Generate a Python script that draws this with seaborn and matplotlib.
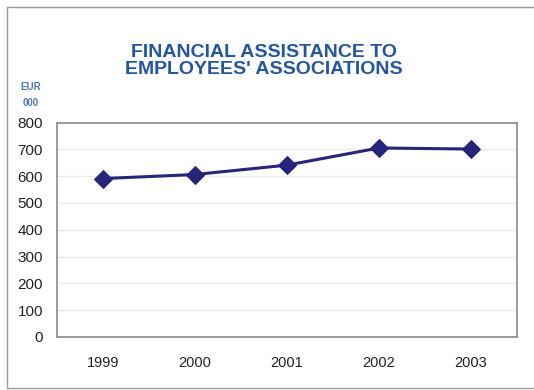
import matplotlib
matplotlib.use("Agg")
import matplotlib.pyplot as plt
import seaborn as sns
import pandas as pd
from matplotlib.patches import Rectangle

years = ["1999", "2000", "2001", "2002", "2003"]
assistance = [591, 606, 641, 705, 701]
yticks = [0, 100, 200, 300, 400, 500, 600, 700, 800]

df = pd.DataFrame({"year": years, "value": assistance})

sns.set_theme(style="white")
plt.rcParams["font.family"] = ["Liberation Sans", "DejaVu Sans"]

fig = plt.figure(figsize=(5.34, 3.90), dpi=100)
W, H = 534, 390
ax = fig.add_axes([57 / W, 1 - 337 / H, (517 - 57) / W, (337 - 122.5) / H])

# outer frame around the chart
fig.patches.append(Rectangle((7 / W, 1 - 388 / H), 1.2, (388 - 7) / H,
                             transform=fig.transFigure, fill=False,
                             edgecolor="#9a9a9a", linewidth=1.0))

sns.lineplot(data=df, x="year", y="value", ax=ax, color="#25257a",
             linewidth=2.2, marker="D", markersize=9,
             markeredgecolor="#25257a", sort=False)

ax.set_xlim(-0.5, len(years) - 0.5)
ax.set_ylim(0, 800)
ax.set_yticks(yticks)
ax.set_yticklabels([str(t) for t in yticks], fontsize=11, color="#222222")
ax.tick_params(axis="x", labelsize=10.5, colors="#222222", pad=14, length=0)
ax.tick_params(axis="y", pad=10, length=0)
ax.set_xlabel("")
ax.set_ylabel("")
ax.yaxis.grid(True, color="#ececec", linewidth=1.0)
for s in ax.spines.values():
    s.set_color("#8a8a8a")
    s.set_linewidth(1.2)

fig.text(264 / W, 1 - 61 / H, "FINANCIAL ASSISTANCE TO\nEMPLOYEES' ASSOCIATIONS",
         ha="center", va="center", fontsize=14, fontweight="bold",
         color="#2456a0", linespacing=0.95)
fig.text(31 / W, 1 - 87 / H, "EUR", ha="center", va="center",
         fontsize=7, fontweight="bold", color="#4a78c0")
fig.text(31 / W, 1 - 103 / H, "000", ha="center", va="center",
         fontsize=7, fontweight="bold", color="#4a78c0")

fig.savefig("out.png", dpi=100, facecolor="white")
